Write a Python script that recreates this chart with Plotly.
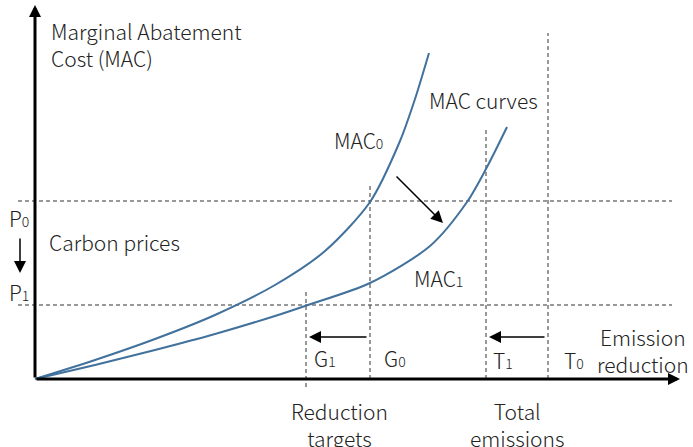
import plotly.graph_objects as go

# Conceptual data (emission reduction vs marginal abatement cost), arbitrary units
mac0_x = [0, 60, 120, 180, 240, 290, 335, 365, 380, 394]
mac0_y = [0, 19, 40, 64, 94, 128, 177, 238, 280, 326]
mac1_x = [0, 60, 120, 180, 240, 273, 335, 395, 432, 452, 472]
mac1_y = [0, 14, 29, 45, 63, 74, 96, 133, 177, 212, 252]

prices = [178, 74]          # P0, P1
targets = [271, 335]        # G1, G0
totals = [451, 513]         # T1, T0
target_tops = [90, 195]
total_tops = [249, 346]

XMIN, XMAX = -35, 658
YMIN, YMAX = -68, 379
CURVE = "#41719C"
INK = "#222222"
FONT = "Noto Sans CJK JP, Noto Sans, sans-serif"

fig = go.Figure()
fig.add_trace(go.Scatter(x=mac0_x, y=mac0_y, mode="lines", line=dict(color=CURVE, width=2, shape="spline", smoothing=0.8), hoverinfo="skip"))
fig.add_trace(go.Scatter(x=mac1_x, y=mac1_y, mode="lines", line=dict(color=CURVE, width=2, shape="spline", smoothing=0.8), hoverinfo="skip"))

dash = dict(color="#333333", width=1, dash="4px,3px")
shapes = []
for p in prices:
    shapes.append(dict(type="line", xref="x", yref="y", x0=-17, x1=637, y0=p, y1=p, line=dash, layer="below"))
shapes.append(dict(type="line", xref="x", yref="y", x0=targets[0], x1=targets[0], y0=-8, y1=target_tops[0], line=dash, layer="below"))
shapes.append(dict(type="line", xref="x", yref="y", x0=targets[1], x1=targets[1], y0=0, y1=target_tops[1], line=dash, layer="below"))
for t, top in zip(totals, total_tops):
    shapes.append(dict(type="line", xref="x", yref="y", x0=t, x1=t, y0=0, y1=top, line=dash, layer="below"))

ann = []
def arrow(x, y, ax, ay, w, size):
    ann.append(dict(x=x, y=y, ax=ax, ay=ay, xref="x", yref="y", axref="x", ayref="y",
                    text="", showarrow=True, arrowhead=2, arrowwidth=w, arrowsize=size,
                    arrowcolor="black"))

# axes
arrow(0, 374, 0, 0, 3, 0.8)
arrow(645, 0, 0, 0, 3, 0.8)
# shift arrows
arrow(targets[0] + 3, 42, targets[1] - 2, 42, 1.5, 1.6)
arrow(totals[0] + 3, 42, totals[1] - 2, 42, 1.5, 1.6)
arrow(408, 156, 360, 204, 1.5, 1.6)
arrow(-15, 106, -15, 142, 1.5, 1.6)

def sub(base, s):
    return base + "<span style='font-size:14px'>" + s + "</span>"

def label(text, x, y, xanchor="left", align="left", size=21):
    ann.append(dict(x=x, y=y, xref="x", yref="y", text=text, showarrow=False,
                    xanchor=xanchor, yanchor="middle", align=align,
                    font=dict(family=FONT, size=size, color=INK, weight=300)))

label("Marginal Abatement<br>Cost (MAC)", 14, 335)
label("MAC curves", 392, 279)
label(sub("MAC", "0"), 297, 239)
label(sub("MAC", "1"), 377, 101)
label(sub("P", "0"), -28, 161)
label(sub("P", "1"), -28, 87)
label("Carbon prices", 12, 137)
label(sub("G", "1"), 277, 21)
label(sub("G", "0"), 347, 21)
label(sub("T", "1"), 456, 19)
label(sub("T", "0"), 527, 19)
label("Emission<br>reduction", 656, 29, xanchor="right", align="center")
label("Reduction<br>targets", 304, -45, xanchor="center", align="center")
label("Total<br>emissions", 482, -45, xanchor="center", align="center")

fig.update_layout(
    width=693, height=447, margin=dict(l=0, r=0, t=0, b=0),
    paper_bgcolor="white", plot_bgcolor="white", showlegend=False,
    xaxis=dict(range=[XMIN, XMAX], visible=False, fixedrange=True),
    yaxis=dict(range=[YMIN, YMAX], visible=False, fixedrange=True),
    shapes=shapes, annotations=ann,
)
fig.write_html("out.html", config={"displayModeBar": False},
               post_script="document.body.style.margin='0';")
